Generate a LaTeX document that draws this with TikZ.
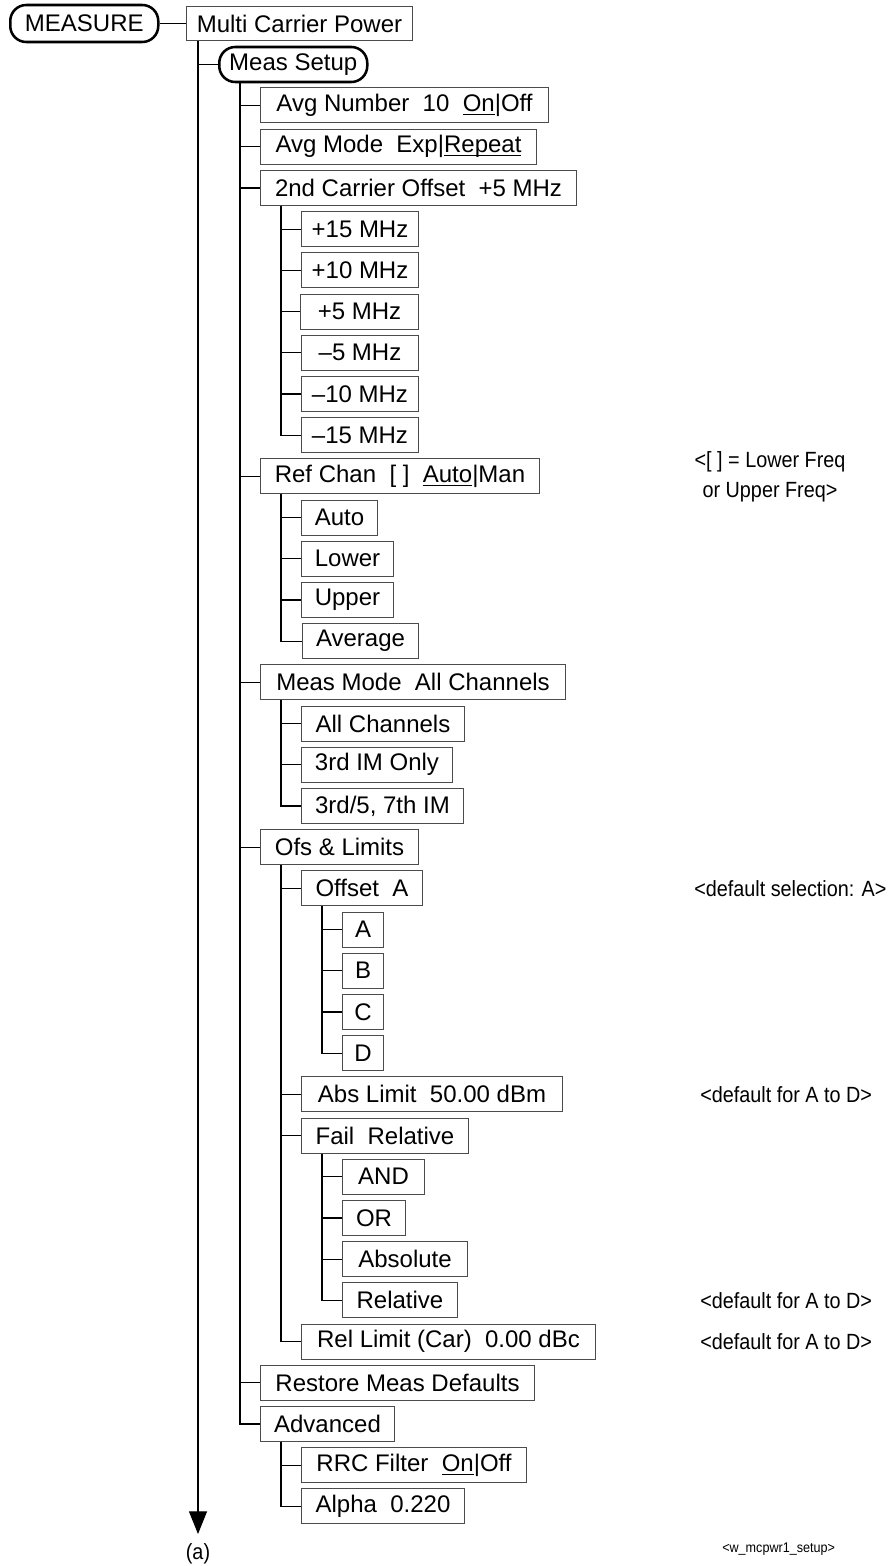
\documentclass[tikz,border=0pt]{standalone}
\usepackage{fontspec}
\setmainfont{Liberation Sans}
\newfontfamily\annfont[FakeStretch=0.9]{Liberation Sans}
\usetikzlibrary{arrows.meta,calc}
\newcommand\ulin[1]{\setbox0\hbox{#1}\rlap{\rule[-2.6pt]{\wd0}{0.9pt}}\box0}
\begin{document}
\begin{tikzpicture}[x=0.75pt,y=-0.75pt,
  box/.style={draw=black!70, line width=0.75pt, anchor=west, minimum height=26.25pt, inner sep=0pt,
              font=\fontsize{18pt}{21pt}\selectfont},
  rbox/.style={draw=black, line width=1.9pt, rounded corners=12pt, anchor=west, inner sep=0pt,
              font=\fontsize{18pt}{21pt}\selectfont},
  conn/.style={draw=black, line width=0.9pt},
  note/.style={anchor=west, inner sep=0pt, font=\annfont\fontsize{16.5pt}{22.5pt}\selectfont}]
\useasboundingbox (0,0) rectangle (890,1566);

% level 0 / 1
\node[rbox, minimum width=148*0.75pt, minimum height=37*0.75pt] (measure) at (9,23.5) {MEASURE};
\node[box, minimum width=226*0.75pt, minimum height=34*0.75pt] (mcp) at (186,24) {Multi Carrier Power};
\node[rbox, minimum width=148*0.75pt, minimum height=35*0.75pt] (setup) at (218,64.5) {Meas Setup};

% level 2
\node[box, minimum width=288*0.75pt] (avgnum) at (260,105.5) {Avg Number~ 10~ \ulin{On}|Off};
\node[box, minimum width=276*0.75pt] (avgmode) at (260,146.7) {Avg Mode~ Exp|\ulin{Repeat}};
\node[box, minimum width=316*0.75pt] (carrier) at (260,187.9) {2nd Carrier Offset~ +5 MHz};
\node[box, minimum width=279*0.75pt] (refchan) at (260,476.3) {Ref Chan~ [ ]~ \ulin{Auto}|Man};
\node[box, minimum width=305*0.75pt] (measmode) at (260,682.3) {Meas Mode~ All Channels};
\node[box, minimum width=158*0.75pt] (ofs) at (260,847.1) {Ofs \& Limits};
\node[box, minimum width=274*0.75pt] (restore) at (260,1382.7) {Restore Meas Defaults};
\node[box, minimum width=134*0.75pt] (adv) at (260,1423.9) {Advanced};

% level 3
\node[box, minimum width=117*0.75pt] (p15) at (301,229.1) {+15 MHz};
\node[box, minimum width=117*0.75pt] (p10) at (301,270.3) {+10 MHz};
\node[box, minimum width=118*0.75pt] (p5) at (300,311.5) {+5 MHz};
\node[box, minimum width=117*0.75pt] (m5) at (301,352.7) {–5 MHz};
\node[box, minimum width=117*0.75pt] (m10) at (301,393.9) {–10 MHz};
\node[box, minimum width=117*0.75pt] (m15) at (301,435.1) {–15 MHz};

\node[box, minimum width=76*0.75pt] (auto) at (301,517.5) {Auto};
\node[box, minimum width=92*0.75pt] (lower) at (301,558.7) {Lower};
\node[box, minimum width=92*0.75pt] (upper) at (301,599.9) {Upper};
\node[box, minimum width=116*0.75pt] (average) at (302,641.1) {Average};

\node[box, minimum width=163*0.75pt] (allch) at (301,723.5) {All Channels};
\node[box, minimum width=151*0.75pt] (im3) at (301,764.7) {3rd IM Only};
\node[box, minimum width=162*0.75pt] (im357) at (301,805.9) {3rd/5, 7th IM};

\node[box, minimum width=121*0.75pt] (offa) at (301,888.3) {Offset~ A};
\node[box, minimum width=261*0.75pt] (abslim) at (301,1094.3) {Abs Limit~ 50.00 dBm};
\node[box, minimum width=167*0.75pt] (fail) at (301,1135.5) {Fail~ Relative};
\node[box, minimum width=294*0.75pt] (rellim) at (301,1341.5) {Rel Limit (Car)~ 0.00 dBc};

\node[box, minimum width=225*0.75pt] (rrc) at (301,1465.1) {RRC Filter~ \ulin{On}|Off};
\node[box, minimum width=163*0.75pt] (alpha) at (301,1506.3) {Alpha~ 0.220};

% level 4
\node[box, minimum width=41*0.75pt] (oa) at (342,929.5) {A};
\node[box, minimum width=41*0.75pt] (ob) at (342,970.7) {B};
\node[box, minimum width=41*0.75pt] (oc) at (342,1011.9) {C};
\node[box, minimum width=41*0.75pt] (od) at (342,1053.1) {D};

\node[box, minimum width=82*0.75pt] (fand) at (342,1176.7) {AND};
\node[box, minimum width=63*0.75pt] (for) at (342,1217.9) {OR};
\node[box, minimum width=125*0.75pt] (fabs) at (342,1259.1) {Absolute};
\node[box, minimum width=115*0.75pt] (frel) at (342,1300.3) {Relative};

% connectors
\draw[conn] (measure.east) -- (measure.east -| mcp.west);
\coordinate (aend) at (198,1534);
\draw[conn,-{Triangle[length=17pt,width=13.5pt]}] ($(mcp.south west)+(12,0)$) -- (aend);
\draw[conn] (setup.west -| aend) -- (setup.west);

\foreach \c in {avgnum,avgmode,carrier,refchan,measmode,ofs,restore,adv}
  \draw[conn] ($(setup.south west)+(22,0)$) |- (\c.west);
\foreach \c in {p15,p10,p5,m5,m10,m15}
  \draw[conn] ($(carrier.south west)+(21,0)$) |- (\c.west);
\foreach \c in {auto,lower,upper,average}
  \draw[conn] ($(refchan.south west)+(21,0)$) |- (\c.west);
\foreach \c in {allch,im3,im357}
  \draw[conn] ($(measmode.south west)+(21,0)$) |- (\c.west);
\foreach \c in {offa,abslim,fail,rellim}
  \draw[conn] ($(ofs.south west)+(21,0)$) |- (\c.west);
\foreach \c in {rrc,alpha}
  \draw[conn] ($(adv.south west)+(21,0)$) |- (\c.west);
\foreach \c in {oa,ob,oc,od}
  \draw[conn] ($(offa.south west)+(21,0)$) |- (\c.west);
\foreach \c in {fand,for,fabs,frel}
  \draw[conn] ($(fail.south west)+(21,0)$) |- (\c.west);

% annotations
\node[note, anchor=center, align=center] (refnote) at (770,477) {<[ ] = Lower Freq\\or Upper Freq>};
\node[note] (defsel) at (694,888.3) {<default selection: A>};
\node[note] (defabs) at (700,1094.3) {<default for A to D>};
\node[note] (defrel) at (700,1300.3) {<default for A to D>};
\node[note] (defrl) at (700,1341.5) {<default for A to D>};
\node[note, font=\annfont\fontsize{10.5pt}{12pt}\selectfont] (fname) at (722,1549) {<w\_mcpwr1\_setup>};
\node[note, anchor=center] (alabel) at ($(aend)+(0,20)$) {(a)};
\end{tikzpicture}
\end{document}
